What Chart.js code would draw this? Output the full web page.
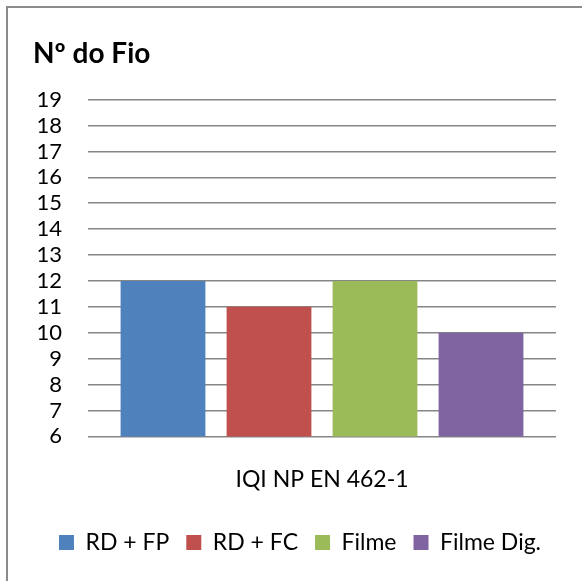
<!DOCTYPE html>
<html>
<head>
<meta charset="utf-8">
<script src="https://cdn.jsdelivr.net/npm/chart.js@4"></script>
<style>
  html, body { margin: 0; padding: 0; background: #fff; }
  #wrap { position: relative; width: 582px; height: 581px; }
  #frame { position: absolute; left: 6px; top: 6px; right: -10px; bottom: -10px;
           border-left: 2px solid #8c8c8c; border-top: 2px solid #8c8c8c; pointer-events: none; }
  canvas { position: absolute; left: 0; top: 0; }
</style>
</head>
<body>
<div id="wrap">
  <canvas id="c" width="582" height="581"></canvas>
  <div id="frame"></div>
</div>
<script>
// Chart content
const chartTitle = 'Nº do Fio';
const categories = ['IQI NP EN 462-1'];
const seriesNames = ['RD + FP', 'RD + FC', 'Filme', 'Filme Dig.'];
const rdFp = [12];
const rdFc = [11];
const filme = [12];
const filmeDig = [10];
const yMin = 6;
const yMax = 19;

const seriesValues = [rdFp, rdFc, filme, filmeDig];
const colors = ['#4F81BD', '#C0504D', '#9BBB59', '#8064A2'];
const FONT = 'Lato, "Open Sans", sans-serif';

new Chart(document.getElementById('c'), {
  type: 'bar',
  data: {
    labels: categories,
    datasets: seriesNames.map((name, i) => ({
      label: name,
      data: seriesValues[i],
      backgroundColor: colors[i],
      borderWidth: 0,
      categoryPercentage: 0.906,
      barPercentage: 0.8
    }))
  },
  options: {
    responsive: false,
    animation: false,
    layout: { padding: { left: 33, right: 15, top: 37, bottom: 17 } },
    plugins: {
      tooltip: { enabled: false },
      title: {
        display: true,
        text: chartTitle,
        align: 'start',
        color: '#000',
        font: { family: FONT, size: 28, weight: 'bold' },
        padding: { top: 0, bottom: 29 }
      },
      legend: {
        position: 'bottom',
        labels: {
          color: '#000',
          font: { family: FONT, size: 23 },
          boxWidth: 15,
          boxHeight: 15,
          padding: 17
        }
      }
    },
    scales: {
      x: {
        grid: { display: false },
        border: { display: false },
        ticks: {
          color: '#000',
          font: { family: FONT, size: 23 },
          padding: 21
        }
      },
      y: {
        min: yMin,
        max: yMax,
        afterFit: (s) => { s.width = 55; },
        border: { display: false },
        grid: { color: '#868686', lineWidth: 1.5, drawTicks: false },
        ticks: {
          stepSize: 1,
          autoSkip: false,
          color: '#000',
          font: { family: FONT, size: 22 },
          padding: 26
        }
      },
      // empty right-hand margin axis, keeps the plot clear of the right edge
      yRight: {
        position: 'right',
        min: yMin,
        max: yMax,
        afterFit: (s) => { s.width = 11; },
        border: { display: false },
        grid: { display: false, drawTicks: false },
        ticks: { display: false }
      }
    }
  }
});
</script>
</body>
</html>
